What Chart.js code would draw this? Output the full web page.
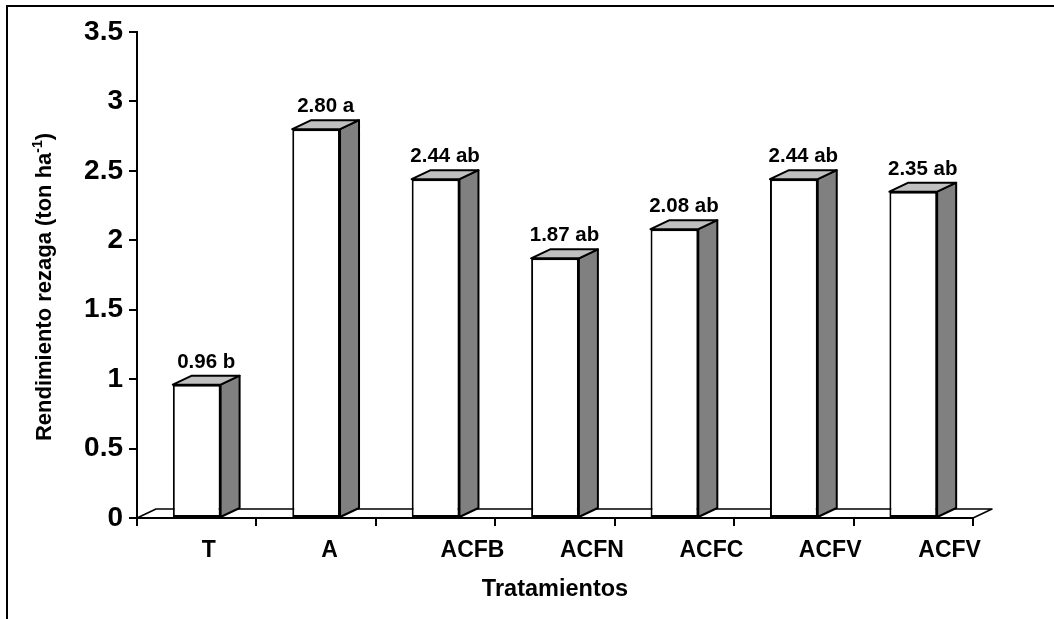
<!DOCTYPE html>
<html>
<head>
<meta charset="utf-8">
<script src="https://cdn.jsdelivr.net/npm/chart.js@4.4.1/dist/chart.umd.min.js"></script>
<style>
  html, body { margin: 0; padding: 0; background: #fff; }
  canvas { display: block; }
</style>
</head>
<body>
<canvas id="c" width="1054" height="619"></canvas>
<script>
// Treatments and shoot yield (ton/ha) with Tukey grouping letters
const categories = ['T', 'A', 'ACFB', 'ACFN', 'ACFC', 'ACFV', 'ACFV'];
const yieldValues = [0.96, 2.80, 2.44, 1.87, 2.08, 2.44, 2.35];
const groupLetters = ['b', 'a', 'ab', 'ab', 'ab', 'ab', 'ab'];
const yTickValues = [0, 0.5, 1, 1.5, 2, 2.5, 3, 3.5];

const FONT = "'Liberation Sans', Arial, sans-serif";
const DEPTH_X = 19;   // oblique depth of the 3D boxes
const DEPTH_Y = 9;

// Frame, floor, box sides/tops, value labels and the y-axis title
const box3d = {
  id: 'box3d',
  beforeDraw(chart) {
    const { ctx, chartArea: a } = chart;
    ctx.save();
    ctx.strokeStyle = '#000';
    ctx.lineWidth = 2;
    ctx.beginPath();
    ctx.moveTo(7, 625);
    ctx.lineTo(7, 6);
    ctx.lineTo(1060, 6);
    ctx.stroke();

    // floor plane
    ctx.beginPath();
    ctx.moveTo(a.left, a.bottom);
    ctx.lineTo(a.left + DEPTH_X, a.bottom - DEPTH_Y);
    ctx.lineTo(a.right + DEPTH_X, a.bottom - DEPTH_Y);
    ctx.lineTo(a.right, a.bottom);
    ctx.closePath();
    ctx.fillStyle = '#fff';
    ctx.fill();
    ctx.lineWidth = 1.5;
    ctx.lineJoin = 'round';
    ctx.stroke();
    ctx.restore();
  },
  afterDatasetsDraw(chart) {
    const ctx = chart.ctx;
    const meta = chart.getDatasetMeta(0);
    ctx.save();
    ctx.strokeStyle = '#000';
    ctx.lineWidth = 2;
    ctx.lineJoin = 'round';
    meta.data.forEach((bar, i) => {
      const { x, y, base, width } = bar.getProps(['x', 'y', 'base', 'width'], true);
      const l = x - width / 2, r = x + width / 2;
      // right side
      ctx.beginPath();
      ctx.moveTo(r, y);
      ctx.lineTo(r + DEPTH_X, y - DEPTH_Y);
      ctx.lineTo(r + DEPTH_X, base - DEPTH_Y);
      ctx.lineTo(r, base);
      ctx.closePath();
      ctx.fillStyle = '#808080';
      ctx.fill();
      ctx.stroke();
      // top
      ctx.beginPath();
      ctx.moveTo(l, y);
      ctx.lineTo(l + DEPTH_X, y - DEPTH_Y);
      ctx.lineTo(r + DEPTH_X, y - DEPTH_Y);
      ctx.lineTo(r, y);
      ctx.closePath();
      ctx.fillStyle = '#c0c0c0';
      ctx.fill();
      ctx.stroke();
      // value label
      ctx.fillStyle = '#000';
      ctx.font = 'bold 20.5px ' + FONT;
      ctx.textAlign = 'center';
      ctx.textBaseline = 'alphabetic';
      ctx.fillText(yieldValues[i].toFixed(2) + ' ' + groupLetters[i], x + DEPTH_X / 2, y - DEPTH_Y - 8);
    });
    ctx.restore();
  },
  afterDraw(chart) {
    // y-axis title with superscript exponent
    const ctx = chart.ctx;
    const main = 'Rendimiento rezaga (ton ha', sup = '-1', close = ')';
    const f1 = 'bold 22px ' + FONT, f2 = 'bold 14px ' + FONT;
    ctx.save();
    ctx.font = f1;
    const w1 = ctx.measureText(main).width, w3 = ctx.measureText(close).width;
    ctx.font = f2;
    const w2 = ctx.measureText(sup).width;
    const total = w1 + w2 + w3;
    ctx.translate(51, 287);
    ctx.rotate(-Math.PI / 2);
    ctx.fillStyle = '#000';
    ctx.textAlign = 'left';
    ctx.textBaseline = 'alphabetic';
    let cx = -total / 2;
    ctx.font = f1;
    ctx.fillText(main, cx, 0);
    cx += w1;
    ctx.font = f2;
    ctx.fillText(sup, cx, -9);
    cx += w2;
    ctx.font = f1;
    ctx.fillText(close, cx, 0);
    ctx.restore();
  }
};

new Chart(document.getElementById('c'), {
  type: 'bar',
  data: {
    labels: categories,
    datasets: [{
      data: yieldValues,
      backgroundColor: '#fff',
      borderColor: '#000',
      borderWidth: 2,
      borderSkipped: false,
      barPercentage: 0.4,
      categoryPercentage: 1
    }]
  },
  options: {
    responsive: false,
    animation: false,
    devicePixelRatio: 1,
    layout: { padding: { top: 32, right: 81, bottom: 0, left: 0 } },
    plugins: {
      legend: { display: false },
      tooltip: { enabled: false },
      title: { display: false }
    },
    scales: {
      x: {
        afterFit: s => { s.height = 101; },
        border: { color: '#000', width: 2 },
        grid: { display: true, drawOnChartArea: false, drawTicks: true, tickLength: 8, color: '#000', lineWidth: 2, offset: true },
        ticks: {
          color: '#000',
          font: { family: FONT, size: 23, weight: 'bold' },
          padding: 11,
          align: 'start',
          labelOffset: 5,
          maxRotation: 0,
          autoSkip: false
        },
        title: {
          display: true,
          text: 'Tratamientos',
          color: '#000',
          font: { family: FONT, size: 23.5, weight: 'bold' },
          padding: { top: 0, bottom: 15 }
        }
      },
      y: {
        min: 0,
        max: 3.5,
        afterFit: s => { s.width = 137; },
        afterBuildTicks: s => { s.ticks = yTickValues.map(v => ({ value: v })); },
        border: { color: '#000', width: 2 },
        grid: { display: true, drawOnChartArea: false, drawTicks: true, tickLength: 8, color: '#000', lineWidth: 2 },
        ticks: {
          color: '#000',
          font: { family: FONT, size: 28, weight: 'bold' },
          padding: 6,
          callback: v => String(v)
        }
      }
    }
  },
  plugins: [box3d]
});
</script>
</body>
</html>
